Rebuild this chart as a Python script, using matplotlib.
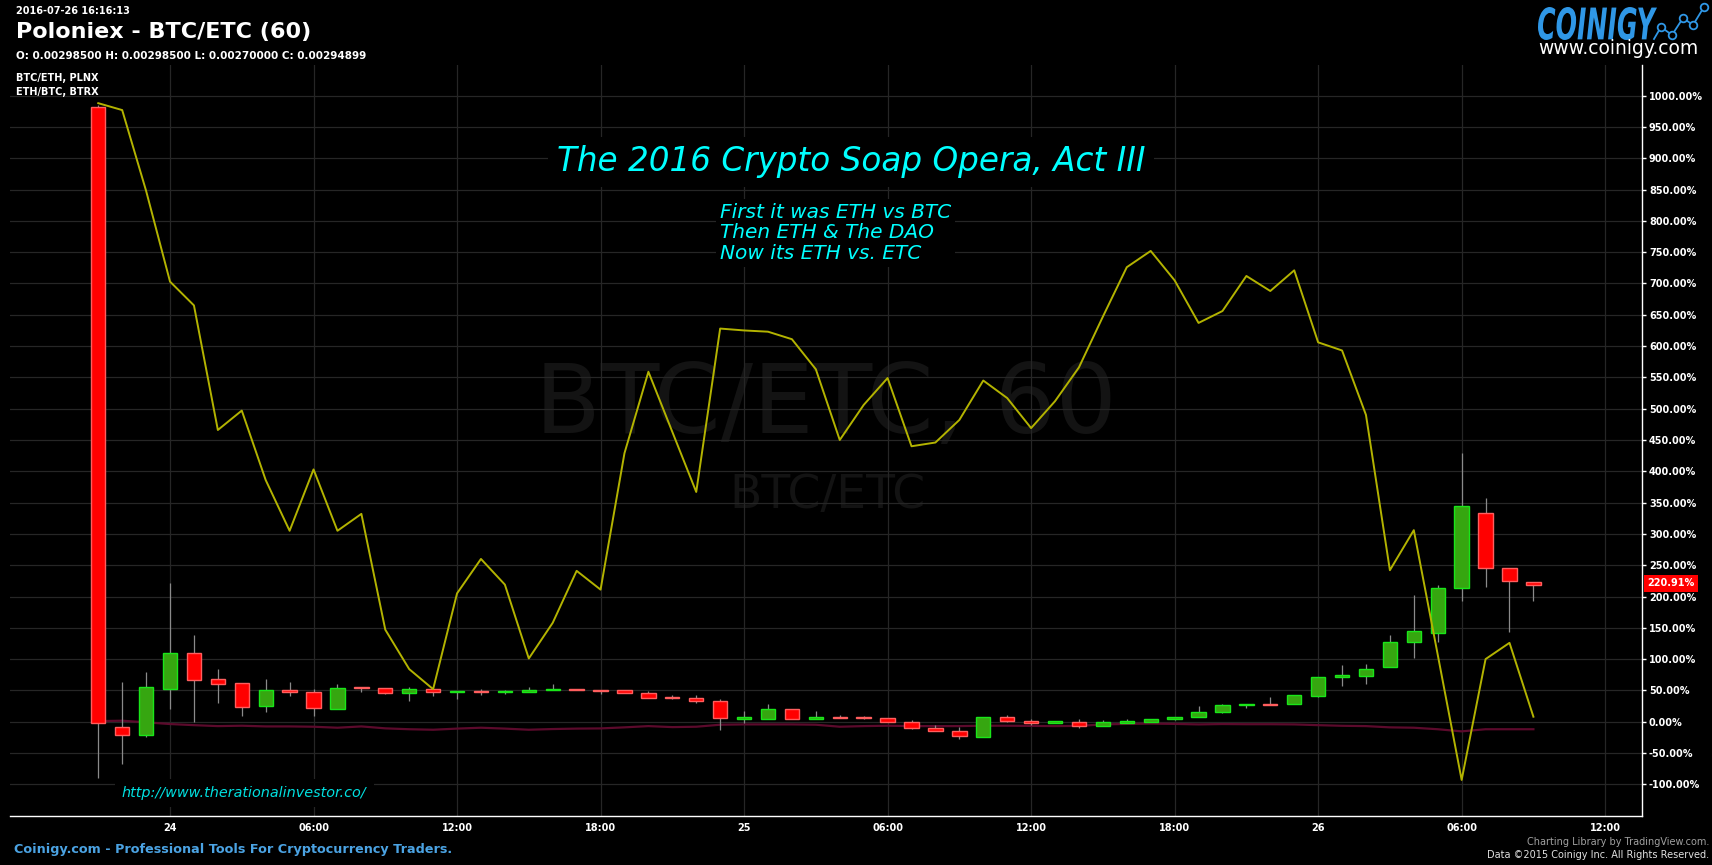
import numpy as np
import matplotlib
matplotlib.use('Agg')
import matplotlib.pyplot as plt
from matplotlib.textpath import TextPath
from matplotlib.patches import PathPatch
from matplotlib.font_manager import FontProperties
from matplotlib.transforms import Affine2D, IdentityTransform

W, H = 1712, 865

# hours since 2016-07-24 00:00 (60 min candles)
hours = list(range(-3, 58))
opens = [982, -8, -21, 53, 110, 69, 62, 25, 51, 48, 21, 55, 54, 46, 53, 48, 49.5, 47.5, 48, 50.5,
         53, 51, 50, 46.5, 39, 38.5, 33.7, 4.8, 5, 21, 4.3, 8, 7, 6.4, 0, -9.6, -14.4, -24, 8, 1.6,
         -1.6, 0, -6.4, -2, 0, 4.8, 8, 16, 26.7, 29, 29, 41, 71.6, 73.5, 86.7, 128, 142.5, 214, 334,
         245, 223]
highs = [985, 63, 79, 222, 138, 84, 62, 69, 63, 53, 60, 56, 54, 55, 53, 49, 52, 50, 55, 61,
         53, 51, 50, 48.7, 42, 42, 36, 16.6, 28, 21, 16.6, 11, 9, 6.4, 2, -5, -9, 8, 10, 3.7,
         1.6, 5, 2, 4, 4.8, 8, 24.6, 29, 29, 39, 42, 72, 90, 91.5, 138.6, 202, 218, 429, 357,
         245, 223]
lows = [-90, -68, -24, 20, 0, 30, 9, 15, 41, 9, 21, 47, 44, 33, 41, 36, 43, 44, 48, 50.5,
        51, 44, 46, 38.5, 36, 30, -13, -2.7, 5, 5, 4.3, 6, 5, 0, -12, -14.4, -28, -24, -1, -6,
        -1.6, -10, -6.4, -2, 0, 2.7, 8, 14, 22, 26.7, 29, 39, 57, 60, 86.7, 102, 128, 193, 215,
        143.6, 193]
closes = [-2, -22, 56, 110, 67, 61, 24, 50, 48, 22, 54, 54, 46, 53, 48, 48.5, 47.5, 48.5, 51, 53,
          51, 49, 46.5, 38.5, 38, 33.7, 6.4, 7, 21, 5, 8, 6, 6, 0, -9.6, -14.4, -22.5, 8, 1.6, -1.6,
          1.6, -6.4, 0, 0.5, 4.8, 8, 16, 27, 29, 26.7, 42, 72, 74, 85, 128, 144.5, 214, 345, 245,
          225.5, 219]

# BTC/ETH, PLNX (yellow) and ETH/BTC, BTRX (maroon) compare lines
btc_eth = [988, 977, 848, 703, 665, 466, 497, 386, 305, 403, 305, 332, 147, 84, 52, 205, 260, 219,
           101, 158, 241, 211, 429, 559, 463, 367, 628, 625, 623, 611, 563, 450, 506, 549, 440, 446,
           482, 545, 517, 469, 512, 566, 647, 726, 752, 705, 637, 656, 712, 688, 721, 606, 593, 490,
           242, 306, 107, -93, 100, 126, 8]
eth_btc = [1, 1.6, -1, -3.7, -5.5, -7, -6.4, -7.5, -7.5, -8, -9.6, -7.5, -10.6, -12, -12.8, -11,
           -9.6, -11, -12.8, -11.7, -11, -10.7, -9, -7, -8.6, -8, -4.8, -4.3, -4.3, -4.3, -4.8, -8,
           -7, -6.4, -7, -7, -7, -6.4, -6.4, -6.7, -7, -6.7, -4.3, -3.5, -3, -3.5, -4.3, -3.7, -4,
           -4, -4.3, -5.5, -6.5, -7, -9, -9.6, -12, -15.4, -12, -12, -12]

tick_pos = list(range(0, 61, 6))
tick_lbl = ['24', '06:00', '12:00', '18:00', '25', '06:00', '12:00', '18:00', '26', '06:00', '12:00']
last_pct = 220.91

fig = plt.figure(figsize=(W / 100, H / 100), dpi=100, facecolor='black')
ax = fig.add_axes([10 / W, 1 - 816 / H, (1642 - 10) / W, (816 - 65) / H])
ax.set_facecolor('black')
ax.patch.set_alpha(0)

def fx(px):
    return px / W

def fy(py):
    return 1 - py / H

# watermark, behind the axes
fig.text(fx(826), fy(407), 'BTC/ETC, 60', color='#131313', fontsize=69, ha='center', va='center', zorder=-5)
fig.text(fx(827), fy(496), 'BTC/ETC', color='#131313', fontsize=34, ha='center', va='center', zorder=-5)

# candles
o = np.array(opens); c = np.array(closes)
up = c >= o
bottom = np.minimum(o, c)
height = np.maximum(np.abs(c - o), 1.2)
ax.vlines(hours, lows, highs, color='#8a8a8a', lw=0.9, zorder=3)
ax.bar(np.array(hours)[up], height[up], bottom=bottom[up], width=0.6, color='#36a610',
       edgecolor='#19e619', lw=1, zorder=4)
ax.bar(np.array(hours)[~up], height[~up], bottom=bottom[~up], width=0.6, color='#ff0000',
       edgecolor='#ff5e5e', lw=1, zorder=4)

ax.plot(hours, eth_btc, color='#5c0a2c', lw=1.6, zorder=2)
ax.plot(hours, btc_eth, color='#b3b300', lw=1.4, zorder=5)

ax.set_xlim(-6.69, 61.54)
ax.set_ylim(-150.6, 1049)
ax.set_xticks(tick_pos)
ax.set_xticklabels(tick_lbl)
ax.set_yticks(np.arange(-100, 1001, 50))
ax.set_yticklabels([f'{v:.2f}%' for v in np.arange(-100, 1001, 50)])
ax.yaxis.tick_right()
ax.tick_params(axis='y', colors='white', length=3, width=1, pad=2, labelsize=7)
ax.tick_params(axis='x', colors='white', length=0, pad=5, labelsize=7)
for lab in ax.get_xticklabels() + ax.get_yticklabels():
    lab.set_fontweight('bold')
ax.grid(True, color='#262626', lw=0.9)
ax.set_axisbelow(True)
for s in ['top', 'left']:
    ax.spines[s].set_visible(False)
for s in ['right', 'bottom']:
    ax.spines[s].set_color('white')
    ax.spines[s].set_linewidth(1)

# last price label
ax.text(1.0035, last_pct, f'{last_pct:.2f}%', transform=ax.get_yaxis_transform(), color='white',
        fontsize=7, fontweight='bold', va='center', ha='left', clip_on=False, zorder=10,
        bbox=dict(facecolor='#ff0000', edgecolor='none', pad=2.5))

# annotations
fig.text(fx(851), fy(162), 'The 2016 Crypto Soap Opera, Act III', color='#00ffff', fontsize=23.5,
         style='italic', ha='center', va='center',
         bbox=dict(facecolor='black', edgecolor='none', pad=6))
fig.text(fx(720), fy(233), 'First it was ETH vs BTC\nThen ETH & The DAO\nNow its ETH vs. ETC',
         color='#00ffff', fontsize=14.5, style='italic', ha='left', va='center', linespacing=1.1,
         bbox=dict(facecolor='black', edgecolor='none', pad=3))
fig.text(fx(122), fy(793), 'http://www.therationalinvestor.co/', color='#00e0e0', fontsize=10.4,
         style='italic', ha='left', va='center',
         bbox=dict(facecolor='black', edgecolor='none', pad=5))

# header
fig.text(fx(16), fy(11), '2016-07-26 16:16:13', color='white', fontsize=7, fontweight='bold', va='center')
fig.text(fx(16), fy(32), 'Poloniex - BTC/ETC (60)', color='white', fontsize=16, fontweight='bold', va='center')
fig.text(fx(16), fy(56), 'O: 0.00298500 H: 0.00298500 L: 0.00270000 C: 0.00294899', color='white',
         fontsize=7.5, fontweight='bold', va='center')
fig.text(fx(16), fy(78), 'BTC/ETH, PLNX', color='white', fontsize=7, fontweight='bold', va='center')
fig.text(fx(16), fy(92), 'ETH/BTC, BTRX', color='white', fontsize=7, fontweight='bold', va='center')

# logo
tp = TextPath((0, 0), 'COINIGY', size=40,
              prop=FontProperties(family='DejaVu Sans', weight='bold', style='italic'))
ext = tp.get_extents()
tr = (Affine2D().translate(-ext.x0, -ext.y0)
      .scale(119 / ext.width, 33 / ext.height).translate(1538, H - 40))
fig.add_artist(PathPatch(tr.transform_path(tp), facecolor='#2f97e6', lw=0,
                         transform=IdentityTransform()))
fig.text(fx(1538), fy(49), 'www.coinigy.com', color='white', fontsize=13.5, va='center', ha='left')
lax = fig.add_axes([fx(1652), fy(42), 56 / W, 39 / H])
lax.set_xlim(0, 56); lax.set_ylim(0, 39); lax.axis('off')
logo_x = [2, 9, 20, 31, 41, 52]
logo_y = [3, 15, 7, 24, 17, 35]
lax.plot(logo_x, logo_y, color='#2f97e6', lw=1.3, clip_on=False)
lax.plot(logo_x[1:], logo_y[1:], 'o', ms=5.5, mfc='black', mec='#2f97e6', mew=1.3, clip_on=False)

# footer
fig.text(fx(14), fy(849), 'Coinigy.com - Professional Tools For Cryptocurrency Traders.', color='#4ba3e3',
         fontsize=9.2, fontweight='bold', va='center')
fig.text(fx(1709), fy(842), 'Charting Library by TradingView.com.', color='#a0a0a0', fontsize=7,
         ha='right', va='center')
fig.text(fx(1709), fy(855), 'Data \u00a92015 Coinigy Inc. All Rights Reserved.', color='#e0e0e0',
         fontsize=7, ha='right', va='center')

fig.savefig('out.png', dpi=100, facecolor='black')
